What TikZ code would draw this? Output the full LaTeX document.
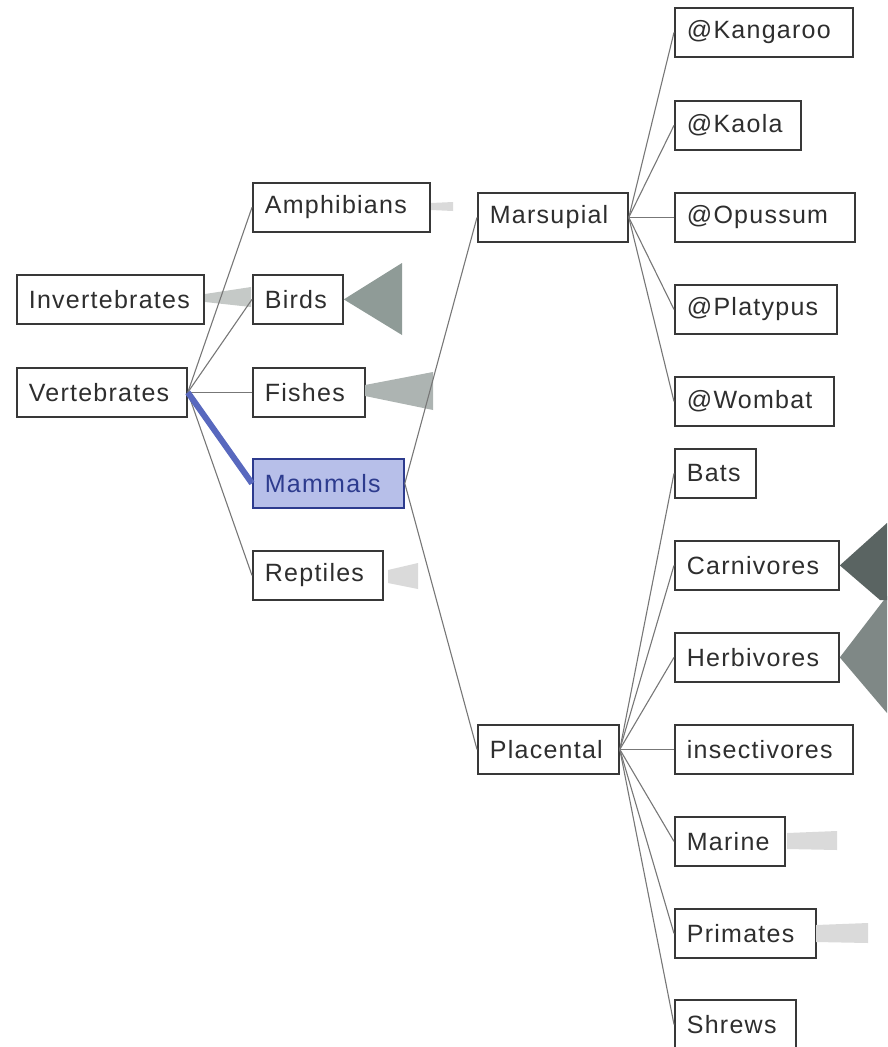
\documentclass[tikz,border=0pt]{standalone}
\usepackage{fontspec}
\setmainfont{Liberation Sans}[LetterSpace=5]
\definecolor{boxc}{HTML}{383838}
\definecolor{txtc}{HTML}{2E2E2E}
\definecolor{linec}{HTML}{777777}
\definecolor{bluel}{HTML}{5868BE}
\definecolor{mfill}{HTML}{B7BFE9}
\definecolor{mdraw}{HTML}{2D3B8E}
\definecolor{wbird}{HTML}{8F9B97}
\definecolor{wfish}{HTML}{ADB4B2}
\definecolor{winv}{HTML}{C5C9C7}
\definecolor{wpale}{HTML}{DADADA}
\definecolor{wcarn}{HTML}{5A6462}
\definecolor{wherb}{HTML}{7F8886}
\begin{document}
\begin{tikzpicture}[x=1pt,y=-1pt,
  bx/.style={draw=boxc, line width=1.8pt, fill=white, text=txtc, inner xsep=12pt, inner ysep=0pt,
    minimum height=49pt, anchor=north west, align=left, text width=#1,
    font=\fontsize{25}{29}\selectfont},
  conn/.style={draw=linec, line width=1.1pt},
  hl/.style={draw=bluel, line width=6pt},
  wedge/.style={draw=none}]
\useasboundingbox (0,0) rectangle (887,1047);
% nodes (text width = box width - 24pt)
\node[bx=163pt] (inv)  at (16,274) {Invertebrates};
\node[bx=146pt] (vert) at (16,367) {Vertebrates};
\node[bx=153pt] (amph) at (252,182) {Amphibians};
\node[bx=66pt]  (bird) at (252,274) {Birds};
\node[bx=88pt]  (fish) at (252,367) {Fishes};
\node[bx=127pt, fill=mfill, draw=mdraw, text=mdraw] (mamm) at (252,458) {Mammals};
\node[bx=106pt] (rept) at (252,550) {Reptiles};
\node[bx=126pt] (mars) at (477,192) {Marsupial};
\node[bx=117pt] (plac) at (477,724) {Placental};
\node[bx=154pt] (kang) at (674,7) {@Kangaroo};
\node[bx=102pt] (kaol) at (674,100) {@Kaola};
\node[bx=156pt] (opus) at (674,192) {@Opussum};
\node[bx=138pt] (plat) at (674,284) {@Platypus};
\node[bx=135pt] (womb) at (674,376) {@Wombat};
\node[bx=57pt]  (bats) at (674,448) {Bats};
\node[bx=140pt] (carn) at (674,540) {Carnivores};
\node[bx=140pt] (herb) at (674,632) {Herbivores};
\node[bx=154pt] (inse) at (674,724) {insectivores};
\node[bx=86pt]  (mari) at (674,816) {Marine};
\node[bx=117pt] (prim) at (674,908) {Primates};
\node[bx=97pt]  (shre) at (674,999) {Shrews};
% collapsed-branch wedges
\fill[winv]  (205,294) -- (251,287) -- (251,307) -- (205,302) -- cycle;
\fill[wpale] (431,203) -- (453,202) -- (453,211) -- (431,210) -- cycle;
\fill[wbird] (bird.east) -- (402,263) -- (402,335) -- cycle;
\fill[wfish] (365,385) -- (433,372) -- (433,410) -- (365,396) -- cycle;
\fill[wpale] (388,570) -- (418,563) -- (418,589) -- (388,583) -- cycle;
\fill[wherb] (herb.east) -- (887,596) -- (887,713) -- cycle;
\fill[wcarn] (carn.east) -- (887,523) -- (887,600) -- (880,600) -- cycle;
\fill[wpale] (787,833) -- (837,831) -- (837,850) -- (787,849) -- cycle;
\fill[wpale] (816,925) -- (868,923) -- (868,943) -- (816,942) -- cycle;
% connectors
\foreach \c in {amph,bird,fish,rept} \draw[conn] (vert.east) -- (\c.west);
\draw[hl] (vert.east) -- (mamm.west);
\foreach \c in {mars,plac} \draw[conn] (mamm.east) -- (\c.west);
\foreach \c in {kang,kaol,opus,plat,womb} \draw[conn] (mars.east) -- (\c.west);
\foreach \c in {bats,carn,herb,inse,mari,prim,shre} \draw[conn] (plac.east) -- (\c.west);
\end{tikzpicture}
\end{document}
